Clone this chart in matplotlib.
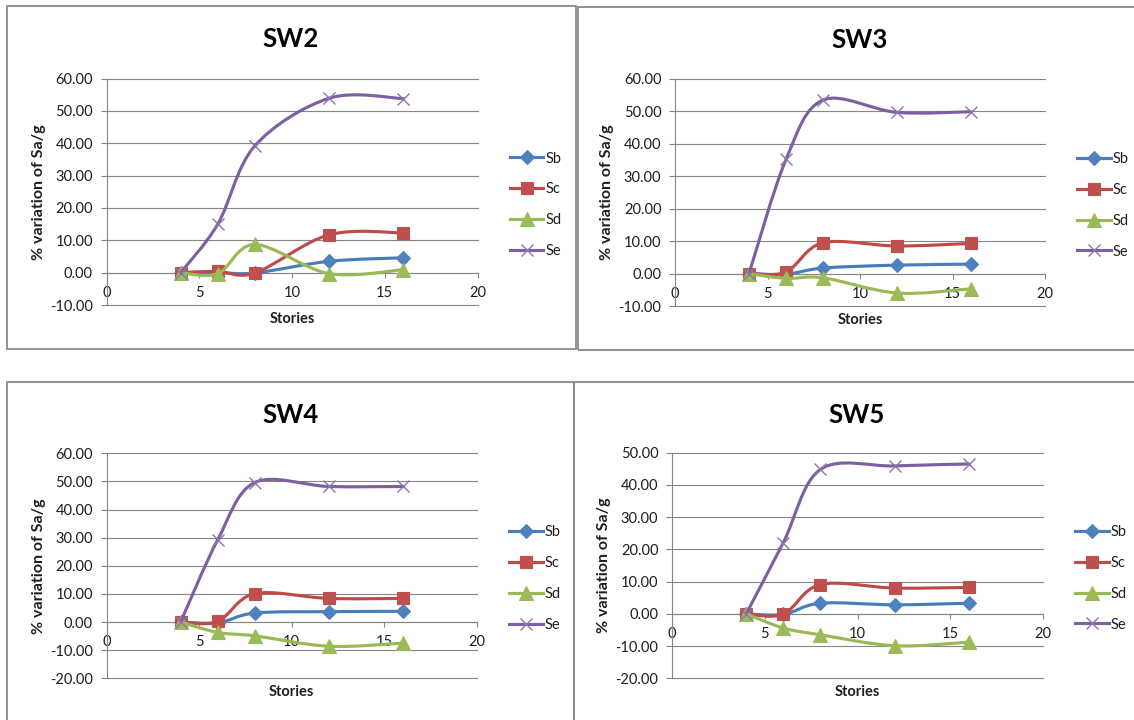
import numpy as np
import matplotlib
matplotlib.use("Agg")
import matplotlib.pyplot as plt
from matplotlib.path import Path
from matplotlib.patches import PathPatch, Rectangle
from matplotlib.lines import Line2D
from matplotlib.ticker import FormatStrFormatter

plt.rcParams["font.family"] = ["Lato", "DejaVu Sans"]

# ---- data -------------------------------------------------------------
stories = [4, 6, 8, 12, 16]
series_names = ["Sb", "Sc", "Sd", "Se"]

sw2_sb = [0.0, 0.0, -0.1, 3.5, 4.6]
sw2_sc = [0.0, 0.4, -0.1, 11.7, 12.3]
sw2_sd = [0.0, -0.3, 8.7, -0.3, 0.9]
sw2_se = [0.0, 15.0, 39.2, 53.9, 53.8]

sw3_sb = [0.0, -0.2, 1.7, 2.6, 2.9]
sw3_sc = [0.0, 0.5, 9.5, 8.5, 9.3]
sw3_sd = [0.0, -1.5, -1.3, -6.0, -4.7]
sw3_se = [0.0, 35.2, 53.5, 49.7, 49.9]

sw4_sb = [0.0, -0.3, 3.2, 3.7, 3.8]
sw4_sc = [0.0, 0.2, 10.1, 8.4, 8.4]
sw4_sd = [0.0, -3.7, -4.9, -8.6, -7.5]
sw4_se = [0.0, 29.2, 49.6, 48.2, 48.2]

sw5_sb = [0.0, -0.2, 3.3, 2.8, 3.3]
sw5_sc = [0.0, -0.1, 9.1, 8.0, 8.2]
sw5_sd = [0.0, -4.4, -6.5, -9.9, -8.8]
sw5_se = [0.0, 22.1, 44.8, 45.9, 46.5]

panel_titles = ["SW2", "SW3", "SW4", "SW5"]
panel_series = [
    [sw2_sb, sw2_sc, sw2_sd, sw2_se],
    [sw3_sb, sw3_sc, sw3_sd, sw3_se],
    [sw4_sb, sw4_sc, sw4_sd, sw4_se],
    [sw5_sb, sw5_sc, sw5_sd, sw5_se],
]
panel_ylims = [(-10, 60), (-10, 60), (-20, 60), (-20, 50)]
x_ticks = [0, 5, 10, 15, 20]

# ---- styling ----------------------------------------------------------
W, H = 1134, 720
GRID = "#868686"
TEXT = "#1e1e1e"
line_colors = ["#4A7EBB", "#BE4B48", "#98B954", "#7D60A0"]
marker_colors = ["#4F81BD", "#C0504D", "#9BBB59", "#8C72B0"]
markers = ["D", "s", "^", "x"]
marker_sizes = [7.0, 9.0, 9.5, 9.0]

# axes boxes in pixels: left, top, right, bottom
axes_px = [
    (106.5, 78.5, 477.5, 305.0),
    (675.0, 79.0, 1045.0, 306.0),
    (106.5, 453.3, 477.0, 678.3),
    (672.0, 452.7, 1043.0, 678.3),
]
title_px = [(291, 39), (860, 40), (291, 415), (857, 415)]
# chart frames in pixels: left, top, right, bottom
frames_px = [
    (7, 6, 576, 349),
    (578, 7, 1140, 350),
    (7, 382, 574, 730),
    (574, 382, 1140, 730),
]


def smooth_path(xs, ys):
    """Cubic Bezier path through the points (smoothed line)."""
    pts = np.column_stack([xs, ys]).astype(float)
    n = len(pts)
    verts = [pts[0]]
    codes = [Path.MOVETO]
    for i in range(n - 1):
        p0 = pts[i - 1] if i > 0 else pts[i]
        p1 = pts[i]
        p2 = pts[i + 1]
        p3 = pts[i + 2] if i + 2 < n else pts[i + 1]
        c1 = p1 + (p2 - p0) / 6.0
        c2 = p2 - (p3 - p1) / 6.0
        verts += [c1, c2, p2]
        codes += [Path.CURVE4] * 3
    return Path(verts, codes)


fig = plt.figure(figsize=(W / 100, H / 100), dpi=100)
fig.patch.set_facecolor("white")

for fx0, fy0, fx1, fy1 in frames_px:
    fig.add_artist(Rectangle((fx0 / W, 1 - fy1 / H), (fx1 - fx0) / W, (fy1 - fy0) / H,
                             transform=fig.transFigure, fill=False,
                             edgecolor="#8a8a8a", linewidth=1.3))

for k in range(4):
    l, t, r, b = axes_px[k]
    ax = fig.add_axes([l / W, 1 - b / H, (r - l) / W, (b - t) / H])
    ymin, ymax = panel_ylims[k]
    ax.set_xlim(0, 20)
    ax.set_ylim(ymin, ymax)
    ax.set_xticks(x_ticks)
    ax.set_yticks(np.arange(ymin, ymax + 1, 10))
    ax.yaxis.set_major_formatter(FormatStrFormatter("%.2f"))
    ax.patch.set_alpha(0)
    for s in ["top", "right"]:
        ax.spines[s].set_visible(False)
    ax.spines["bottom"].set_position(("data", 0))
    for s in ["left", "bottom"]:
        ax.spines[s].set_color(GRID)
        ax.spines[s].set_linewidth(0.8)
    ax.grid(axis="y", color=GRID, linewidth=0.8)
    for gl in ax.get_ygridlines():
        gl.set_clip_on(False)
    ax.set_axisbelow(True)
    ax.tick_params(axis="y", direction="out", length=4.3, width=0.8, color=GRID,
                   pad=5.5, labelsize=10.5, labelcolor=TEXT)
    ax.tick_params(axis="x", direction="out", length=3.6, width=0.8, color=GRID,
                   pad=6.0, labelsize=10.5, labelcolor=TEXT)

    for j, vals in enumerate(panel_series[k]):
        patch = PathPatch(smooth_path(stories, vals), facecolor="none",
                          edgecolor=line_colors[j], linewidth=2.25,
                          capstyle="round", joinstyle="round",
                          zorder=3 + 2 * j)
        ax.add_patch(patch)
        ax.plot(stories, vals, linestyle="none", marker=markers[j],
                markersize=marker_sizes[j], markerfacecolor=marker_colors[j],
                markeredgecolor=marker_colors[j],
                markeredgewidth=1.0 if markers[j] == "x" else 0.8,
                zorder=4 + 2 * j, clip_on=False)

    handles = [Line2D([], [], color=line_colors[j], linewidth=2.25,
                      marker=markers[j], markersize=marker_sizes[j],
                      markerfacecolor=marker_colors[j],
                      markeredgecolor=marker_colors[j],
                      markeredgewidth=1.0 if markers[j] == "x" else 0.8)
               for j in range(4)]
    leg = ax.legend(handles, series_names, loc="center left",
                    bbox_to_anchor=(1.087, 0.443), frameon=False,
                    fontsize=10.5, handlelength=2.3, handletextpad=0.15,
                    labelspacing=1.15, borderpad=0, borderaxespad=0)
    for txt in leg.get_texts():
        txt.set_color(TEXT)

    ax.text(-0.183, 0.5, "% variation of Sa/g", transform=ax.transAxes,
            rotation=90, ha="center", va="center", fontsize=11.5,
            fontweight="bold", color=TEXT)
    ax.text(0.5, -(13.5 / (b - t)), "Stories", transform=ax.transAxes,
            ha="center", va="center", fontsize=10.5, fontweight="bold", color=TEXT)

    tx, ty = title_px[k]
    fig.text(tx / W, 1 - ty / H, panel_titles[k], ha="center", va="center",
             fontsize=18.5, fontweight="bold", color="black")

fig.savefig("out.png", dpi=100, facecolor="white")
